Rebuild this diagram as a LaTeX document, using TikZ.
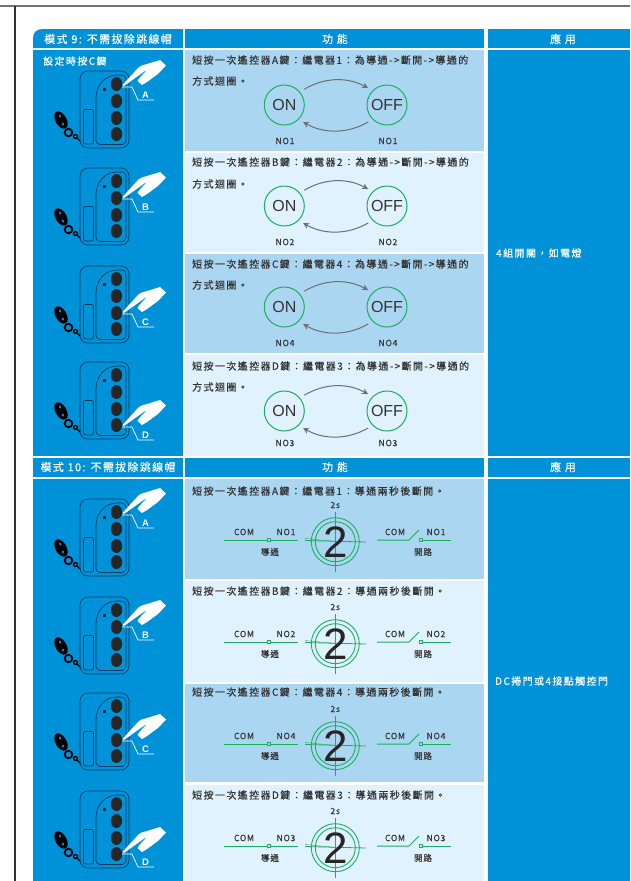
\documentclass[tikz,border=0pt]{standalone}
\usepackage{fontspec}
\setmainfont{Noto Sans CJK TC}
\newfontfamily\rowf[LetterSpace=14,FakeBold=0.25]{Noto Sans CJK TC}
\newfontfamily\headf[LetterSpace=12,FakeBold=0.15]{Noto Sans CJK TC}
\newfontfamily\smallf[LetterSpace=8,FakeBold=0.15]{Noto Sans CJK TC}
\newfontfamily\latf{Liberation Sans}
\usetikzlibrary{arrows.meta,calc}
\definecolor{mainblue}{HTML}{0092D8}
\definecolor{rowdark}{HTML}{ABD6F2}
\definecolor{rowlight}{HTML}{E0F2FD}
\definecolor{relgreen}{HTML}{1BAF5D}
\definecolor{arrowgray}{HTML}{6D6E71}
\definecolor{inkdark}{HTML}{333333}
\definecolor{navy}{HTML}{0B3A5C}
\tikzset{
  x=1pt,y=-1pt,
  headtxt/.style={text=white,font=\headf\fontsize{11}{11}\selectfont,inner sep=0pt},
  rowtxt/.style={text=inkdark,font=\rowf\fontsize{10}{10}\selectfont,inner sep=0pt,anchor=west},
  sidetxt/.style={text=white,font=\rowf\fontsize{10}{10}\selectfont,inner sep=0pt,anchor=west},
  smalltxt/.style={text=inkdark,font=\smallf\fontsize{8.6}{8.6}\selectfont,inner sep=0pt},
  state/.style={circle,draw=relgreen,line width=1pt,minimum size=40pt,inner sep=0pt,text=inkdark,font=\latf\fontsize{16}{16}\selectfont},
  cyc/.style={draw=arrowgray,line width=1pt,-{Stealth[length=6pt,width=6pt]},shorten >=5pt,shorten <=5pt},
  grn/.style={draw=relgreen,line width=1pt},
  devline/.style={draw=navy,line width=0.7pt},
  btn/.style={fill=black!85,draw=none},
}
% #1 device y offset, #2 hand y offset, #3 letter
\newcommand{\device}[3]{%
  \begin{scope}[shift={(0,#1)}]
    \draw[devline,rounded corners=8pt] (80,71) rectangle (129,148);
    \draw[devline,rounded corners=4pt] (117,75) -- (126,75) -- (126,144.5) -- (96,144.5) -- (96,98);
    \draw[devline] (96,98) .. controls (96,85) and (105,75) .. (117,75);
    \draw[devline,rounded corners=2pt] (83.5,109.5) rectangle (93.5,144);
    \fill[black!85] (102.5,88) rectangle (105.5,91);
    \foreach \yy in {84,101,118,134} \fill[btn] (116.5,\yy) ellipse (5.7 and 7);
    \fill[black,rotate around={30:(61,120)}] (61,120) ellipse (5.5 and 9.5);
    \fill[mainblue,rotate around={30:(60,116)}] (60,116) ellipse (1 and 1.8);
    \fill[mainblue,rotate around={30:(63,124)}] (63,124) ellipse (1.2 and 1.6);
    \draw[black,line width=1.8pt] (68.5,132.5) circle (3.8);
    \draw[black,line width=1.3pt] (75.5,136.5) circle (2);
    \draw[black,line width=1.3pt] (77,138) -- (80,141);
  \end{scope}
  \begin{scope}[shift={(0,#2)}]
    \fill[white] (122.5,83) -- (138,66) .. controls (141,63) and (144,63) .. (147,62) -- (160,58) -- (166,63.5) -- (158,72) .. controls (152,76) and (148,80) .. (142,83) -- (137.5,79) .. controls (140,74) and (145,71) .. (147,67.5) -- (124,84) -- cycle;
    \draw[white,line width=0.7pt] (122,85) -- (132,85) -- (138,98) -- (154,98);
    \node[inner sep=0pt,text=white,font=\latf\bfseries\fontsize{9.5}{9.5}\selectfont] at (145.5,93) {#3};
  \end{scope}%
}
% #1 panel top, #2 bottom, #3 colour
\newcommand{\panel}[3]{\fill[#3] (185,#1) rectangle (484,#2);}
% #1 id, #2 circle y, #3 NO label, #4 label y
\newcommand{\onoff}[4]{%
  \node[state] (on#1) at (284.3,#2) {ON};
  \node[state] (off#1) at (387,#2) {OFF};
  \draw[cyc] (on#1.40) to[bend left=30] (off#1.135);
  \draw[cyc] (off#1.-135) to[bend left=30] (on#1.-45);
  \node[smalltxt] (nl#1) at (285,#4) {#3};
  \node[smalltxt] (nr#1) at (388,#4) {#3};
}
% #1 id, #2 contact line y, #3 NO label
\newcommand{\timerrow}[3]{%
  \begin{scope}[shift={(0,#2)}]
    \draw[grn,line width=0.9pt] (335.3,1.7) circle (24);
    \draw[grn,line width=0.9pt] (335.3,1.7) circle (20);
    \draw[grn,line width=0.8pt] (335.3,-28) -- (335.3,32);
    \draw[grn,line width=0.8pt] (305,0.5) -- (366,2);
    \draw[grn,line width=0.4pt] (305,-1.5) -- (335,1.5);
    \node[inner sep=0pt,text=black!85,font=\latf\fontsize{44}{44}\selectfont] (tm#1) at (335.5,2) {2};
    \node[smalltxt] (ts#1) at (335.3,-35) {2s};
    \node[smalltxt] (lc#1) at (244,-8) {COM};
    \node[smalltxt] (ln#1) at (286,-8) {#3};
    \node[smalltxt] (lt#1) at (270,12) {導通};
    \node[smalltxt] (rc#1) at (395,-8) {COM};
    \node[smalltxt] (rn#1) at (436,-8) {#3};
    \node[smalltxt] (rt#1) at (423,12) {開路};
    \node[draw=relgreen,line width=0.7pt,fill=none,minimum size=3.5pt,inner sep=0pt] (ls#1) at (269,0) {};
    \node[draw=relgreen,line width=0.7pt,fill=none,minimum size=3.5pt,inner sep=0pt] (rs#1) at (421,0) {};
    \coordinate (la#1) at (224,0);
    \coordinate (lb#1) at (298,0);
    \coordinate (ra#1) at (377,0);
    \coordinate (rm#1) at (409,0);
    \coordinate (rk#1) at (419,-10);
    \coordinate (rb#1) at (451,0);
    \draw[grn] (la#1) -- (ls#1) (ls#1) -- (lb#1);
    \draw[grn] (ra#1) -- (rm#1) -- (rk#1);
    \draw[grn] (rs#1) -- (rb#1);
  \end{scope}%
}
\begin{document}
\begin{tikzpicture}
\useasboundingbox (0,0) rectangle (630,881);
\fill[white] (0,0) rectangle (630,881);
\draw[black!55,line width=1.2pt] (0,6) -- (630,6);
\draw[black!80,line width=1.2pt] (15,6) -- (15,881);
% table 1
\fill[mainblue] (33,48) -- (33,38) .. controls (33,32) and (37,29) .. (43,29) -- (183,29) -- (183,48) -- cycle;
\fill[mainblue] (185,29) rectangle (484,48);
\fill[mainblue] (488,29) rectangle (630,48);
\fill[mainblue] (33,50) rectangle (183,456);
\fill[mainblue] (488,50) rectangle (630,456);
\panel{50}{150.5}{rowdark}
\panel{153}{252}{rowlight}
\panel{254}{353}{rowdark}
\panel{355}{456}{rowlight}
% table 2
\fill[mainblue] (33,458) rectangle (183,477);
\fill[mainblue] (185,458) rectangle (484,477);
\fill[mainblue] (488,458) rectangle (630,477);
\fill[mainblue] (33,479) rectangle (183,881);
\fill[mainblue] (488,479) rectangle (630,881);
\panel{479}{579}{rowdark}
\panel{581}{682}{rowlight}
\panel{684}{782}{rowdark}
\panel{785}{881}{rowlight}
% headers
\node[headtxt] (h1) at (108,39) {模式 9: 不需拔除跳線帽};
\node[headtxt] (h2) at (335,39) {功 能};
\node[headtxt] (h3) at (563,39) {應 用};
\node[headtxt] (h4) at (108,467) {模式 10: 不需拔除跳線帽};
\node[headtxt] (h5) at (335,467) {功 能};
\node[headtxt] (h6) at (563,467) {應 用};
\node[sidetxt] (setc) at (43,61) {設定時按C鍵};
\node[sidetxt] (app1) at (496,253) {4組開關，如電燈};
\node[sidetxt] (app2) at (495,681) {DC捲門或4接點觸控門};
% devices
\device{0}{2}{A}
\device{97}{114}{B}
\device{195}{229}{C}
\device{291}{342}{D}
\device{428}{430}{A}
\device{526}{542}{B}
\device{622}{656}{C}
\device{720}{769}{D}
% table 1 rows
\node[rowtxt] (t1a) at (192,60) {短按一次遙控器A鍵：繼電器1：為導通->斷開->導通的};
\node[rowtxt] (t1b) at (192,81) {方式迴圈。};
\onoff{a}{105}{NO1}{141}
\node[rowtxt] (t2a) at (192,162) {短按一次遙控器B鍵：繼電器2：為導通->斷開->導通的};
\node[rowtxt] (t2b) at (192,184) {方式迴圈。};
\onoff{b}{206}{NO2}{242}
\node[rowtxt] (t3a) at (192,264) {短按一次遙控器C鍵：繼電器4：為導通->斷開->導通的};
\node[rowtxt] (t3b) at (192,285) {方式迴圈。};
\onoff{c}{307}{NO4}{343}
\node[rowtxt] (t4a) at (192,366) {短按一次遙控器D鍵：繼電器3：為導通->斷開->導通的};
\node[rowtxt] (t4b) at (192,387) {方式迴圈。};
\onoff{d}{411}{NO3}{443}
% table 2 rows
\node[rowtxt] (u1) at (192,491) {短按一次遙控器A鍵：繼電器1：導通兩秒後斷開。};
\timerrow{e}{540}{NO1}
\node[rowtxt] (u2) at (192,591) {短按一次遙控器B鍵：繼電器2：導通兩秒後斷開。};
\timerrow{f}{642}{NO2}
\node[rowtxt] (u3) at (192,692) {短按一次遙控器C鍵：繼電器4：導通兩秒後斷開。};
\timerrow{g}{744}{NO4}
\node[rowtxt] (u4) at (192,795) {短按一次遙控器D鍵：繼電器3：導通兩秒後斷開。};
\timerrow{h}{846}{NO3}
\end{tikzpicture}
\end{document}
